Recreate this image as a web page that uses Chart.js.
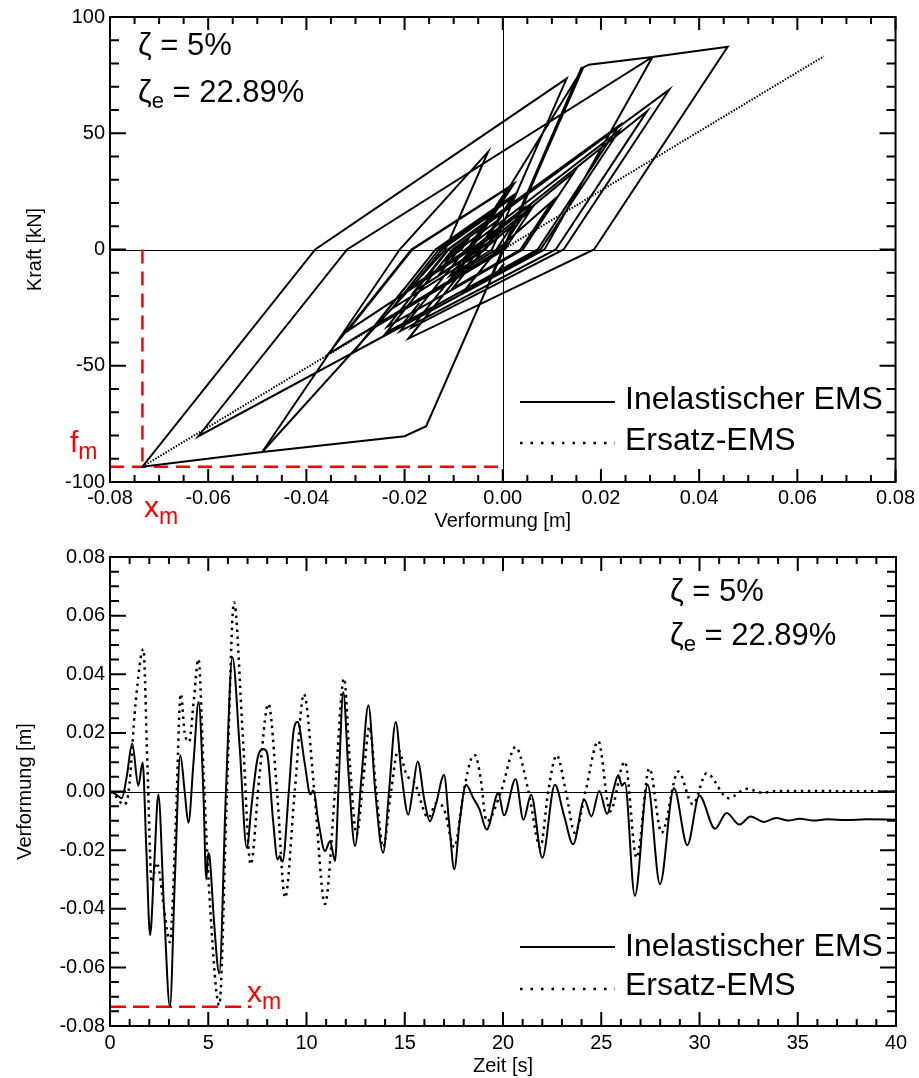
<!DOCTYPE html>
<html>
<head>
<meta charset="utf-8">
<script src="https://cdn.jsdelivr.net/npm/chart.js@4.4.0/dist/chart.umd.min.js"></script>
<style>
  html, body { margin: 0; padding: 0; background: #fff; }
  #wrap { position: relative; width: 919px; height: 1078px; overflow: hidden; }
  canvas { position: absolute; left: 0; }
  .t { position: absolute; font-family: 'Liberation Sans', Arial, sans-serif; line-height: 1; white-space: nowrap; color: #000; }
  .z { font-size: 31px; }
  .lg { font-size: 32px; }
  .red { color: #ff0000; font-size: 30px; }
  .sub { position: relative; top: 7px; font-size: 23px; }
  .zsub { position: relative; top: 6px; font-size: 22px; }
</style>
</head>
<body>
<div id="wrap">
  <canvas id="c1" width="919" height="540" style="top:0"></canvas>
  <canvas id="c2" width="919" height="538" style="top:540px"></canvas>

  <div class="t z" style="left:138px;top:29px">ζ = 5%</div>
  <div class="t z" style="left:138px;top:76px">ζ<span class="zsub">e</span> = 22.89%</div>
  <div class="t lg" style="left:625px;top:382px">Inelastischer EMS</div>
  <div class="t lg" style="left:625px;top:423px">Ersatz-EMS</div>
  <div class="t red" style="left:70px;top:427px">f<span class="sub">m</span></div>
  <div class="t red" style="left:144px;top:492px">x<span class="sub">m</span></div>

  <div class="t z" style="left:670px;top:575px">ζ = 5%</div>
  <div class="t z" style="left:670px;top:619px">ζ<span class="zsub">e</span> = 22.89%</div>
  <div class="t lg" style="left:625px;top:929px">Inelastischer EMS</div>
  <div class="t lg" style="left:625px;top:968px">Ersatz-EMS</div>
  <div class="t red" style="left:247px;top:977px">x<span class="sub">m</span></div>
</div>
<script>
// ---------------- data ----------------
// Hysteresis (inelastic EMS): displacement [m] and force [kN], in time order
const hystDisp = [
  0,-0.0023,0.016,0.0164,0.002,0.0099,0.0002,-0.0156,-0.020,-0.049,
  -0.021,-0.003,-0.0117,-0.049,-0.0734,-0.0382,0.013,-0.0022,-0.0107,-0.0065,
  0.0164,0.0175,0.0305,0.0085,-0.0305,-0.020,-0.0305,-0.062,-0.0317,0.0305,
  0.0458,0.0186,-0.0192,-0.0047,0.0145,0.0041,-0.0235,-0.011,0.0237,0.0071,
  -0.001,0.0003,-0.001,-0.0203,-0.017,-0.0203,-0.0237,-0.0102,0.0339,0.0124,
  -0.0186,-0.0059,0.0294,0.0108,-0.0209,-0.0076,0.0237,0.0077,-0.0079,-0.0011,
  0.0102,0.0036,-0.0102,-0.0039,0.0056,0.0004,-0.0265,-0.0137,0.0023,-0.0050,
  -0.013,-0.0089,-0.0006,-0.0047,-0.0081,-0.0064,0.0042,-0.0013,-0.0096,-0.0056,
  -0.0011,-0.0035,-0.0226,-0.0130,0.0023,-0.0048,-0.018,-0.0112,-0.0028,-0.0068,
  -0.0085,-0.0076,0.0002,-0.0038,-0.0077,-0.0057,0.0056,-0.0004,-0.0356,-0.0186,
  0.0023,-0.0065,-0.0316,-0.0184,0.0011,-0.0072,-0.0183,-0.0124,-0.0014,-0.0066,
  -0.0127,-0.0095,-0.0073,-0.0084,-0.0113,-0.0098,-0.0085,-0.0091,-0.0104,-0.0097,
  -0.0090,-0.0096
];
const hystForce = [
  0,-11.2,78,78.3,8.8,46.9,0,-76,-80.3,-87.1,
  0,42,0,-87.1,-93.4,0,73.5,0,-11.1,0,
  78.3,79.5,82.8,0,-44.4,-16.6,-44.4,-80.3,0,82.8,
  87.2,0,-38.3,0,33.2,0,-33.2,0,53.3,0,
  -9.4,-6.0,-9.4,-31.8,-23.1,-31.8,-35.7,0,68.7,0,
  -33.7,0,59.5,0,-35.1,0,51.1,0,-17.9,0,
  21.0,0,-16.7,0,16.7,0,-34.0,0,23.5,0,
  -10.9,0,13.2,0,-4.6,0,17.7,0,-10.7,0,
  7.6,0,-25.5,0,22.7,0,-18.0,0,12.9,0,
  -2.4,0,12.7,0,-5.2,0,19.1,0,-45.0,0,
  28.3,0,-35.0,0,26.5,0,-15.6,0,16.5,0,
  -8.6,0,3.5,0,-4.0,0,2.0,0,-1.8,0,
  1.1,0
];
// Equivalent linear system (Ersatz-EMS) line ends
const ersatzDisp = [-0.0734, 0.0654];
const ersatzForce = [-93.4, 83.1];
// Maxima markers
const xMax = -0.0734;   // x_m [m]
const fMax = -93.4;     // f_m [kN]
const xmMarkerEndTime = 7.2; // [s]

// Time histories
const timeInel = [
  0,0.3,0.6,0.85,1.13,1.44,1.66,1.85,2.04,2.25,
  2.46,2.75,3.05,3.3,3.58,3.8,3.99,4.25,4.51,4.75,
  4.9,5.0,5.08,5.3,5.56,5.9,6.23,6.6,6.96,7.2,
  7.5,7.8,8.0,8.3,8.53,8.65,8.78,9.1,9.35,9.55,
  9.9,10.2,10.35,10.6,10.94,11.2,11.45,11.65,11.87,12.15,
  12.47,12.8,13.15,13.5,13.9,14.2,14.54,14.85,15.18,15.4,
  15.66,16.0,16.28,16.6,17.0,17.25,17.52,17.8,18.12,18.49,
  18.8,19.17,19.76,20.05,20.64,21.04,21.43,22.0,22.64,23.1,
  23.57,24.14,24.5,24.9,25.3,25.6,25.87,26.05,26.2,26.71,
  27.36,27.99,28.7,29.38,29.99,30.79,31.38,32.03,32.6,33.28,
  33.9,34.52,35.1,35.8,36.5,37.5,38.5,40
];
const dispInel = [
  0,-0.001,-0.0023,0.005,0.0164,0.002,0.0099,-0.02,-0.049,-0.025,
  -0.001,-0.04,-0.0734,-0.03,0.0124,0.0,-0.0107,0.01,0.0305,0.0,
  -0.030,-0.021,-0.023,-0.045,-0.062,0.0,0.0458,0.015,-0.0192,-0.005,
  0.011,0.0145,0.013,-0.01,-0.0232,-0.022,-0.024,0.0,0.021,0.0237,
  0.01,-0.001,0.0003,-0.01,-0.0203,-0.017,-0.0237,0.005,0.0339,0.005,
  -0.0186,0.005,0.0294,0.0,-0.0209,0.0,0.0237,0.005,-0.0079,0.0,
  0.0102,-0.003,-0.0102,-0.004,0.0056,-0.01,-0.0265,-0.01,0.0023,-0.0023,
  -0.006,-0.013,-0.0006,-0.0081,0.0042,-0.0096,-0.0011,-0.0226,0.0023,-0.008,
  -0.018,-0.0028,-0.0085,0.0002,-0.0077,0.0,0.0056,0.002,0.003,-0.0356,
  0.0023,-0.0316,0.0011,-0.0183,-0.0014,-0.0127,-0.0073,-0.0113,-0.0085,-0.0104,
  -0.009,-0.0099,-0.0093,-0.0099,-0.0095,-0.0097,-0.0095,-0.0096
];
const timeErs = [
  0,0.35,0.68,0.95,1.3,1.7,1.9,2.12,2.37,2.5,
  2.75,3.05,3.35,3.6,3.8,4.03,4.25,4.5,4.8,5.1,
  5.56,5.95,6.31,6.75,7.16,7.6,8.06,8.5,8.91,9.4,
  9.87,10.4,10.94,11.45,11.91,12.2,12.55,12.9,13.2,13.55,
  13.9,14.3,14.67,15.1,15.5,16.2,16.6,17.0,17.52,18.0,
  18.4,18.58,18.85,19.17,19.9,20.64,21.3,21.9,22.3,22.73,
  23.2,23.66,24.2,24.85,25.45,26.2,26.8,27.45,28.07,28.92,
  29.66,30.36,31.47,32.4,33.2,34,40
];
const dispErs = [
  0,-0.002,-0.0045,0.0,0.03,0.0486,0.01,-0.031,-0.0243,-0.027,
  -0.04,-0.0514,-0.01,0.0333,0.02,0.017,0.03,0.0452,0.0,-0.04,
  -0.0729,0.0,0.0646,0.02,-0.0249,0.005,0.0299,0.0,-0.0362,0.0,
  0.0333,0.0,-0.0384,0.0,0.0386,0.01,-0.0147,0.005,0.022,0.0,
  -0.019,0.0,0.0141,0.0056,0.003,-0.009,-0.004,-0.006,-0.019,0.0,
  0.0115,0.0124,0.005,-0.0102,0.0,0.0152,0.0,-0.019,0.0,0.0124,
  0.0,-0.0141,0.0,0.0172,-0.0068,0.0102,-0.0226,0.0079,-0.0141,0.0068,
  -0.0044,0.0062,-0.0023,0.0009,-0.0004,0.0002,0.0
];

// Tick labels
const hystXTicks = [-0.08,-0.06,-0.04,-0.02,0,0.02,0.04,0.06,0.08];
const hystYTicks = [-100,-50,0,50,100];
const timeXTicks = [0,5,10,15,20,25,30,35,40];
const timeYTicks = [-0.08,-0.06,-0.04,-0.02,0,0.02,0.04,0.06,0.08];

// ---------------- helpers ----------------
const FONT = "'Liberation Sans', Arial, sans-serif";
Chart.defaults.font.family = FONT;
Chart.defaults.font.size = 20;
Chart.defaults.color = '#000';

const zip = (xs, ys) => xs.map((v, i) => ({x: v, y: ys[i]}));
const fmt2 = v => (Math.abs(v) < 1e-9 ? 0 : v).toFixed(2);

const frameTicks = {
  id: 'frameTicks',
  beforeDatasetsDraw(chart, args, o) {
    const {ctx, chartArea: a, scales: {x, y}} = chart;
    ctx.save();
    ctx.strokeStyle = '#000';
    ctx.lineWidth = 1;
    ctx.beginPath();
    if (o.zeroX) { const p = Math.round(x.getPixelForValue(0)) + 0.5; ctx.moveTo(p, a.top); ctx.lineTo(p, a.bottom); }
    if (o.zeroY) { const p = Math.round(y.getPixelForValue(0)) + 0.5; ctx.moveTo(a.left, p); ctx.lineTo(a.right, p); }
    ctx.stroke();
    ctx.restore();
  },
  afterDraw(chart, args, o) {
    const {ctx, chartArea: a, scales: {x, y}} = chart;
    ctx.save();
    ctx.strokeStyle = '#000';
    ctx.lineWidth = 2;
    ctx.setLineDash([]);
    ctx.strokeRect(a.left, a.top, a.right - a.left, a.bottom - a.top);
    ctx.beginPath();
    const nx = Math.round((o.xMax - o.xMin) / o.xMinor);
    for (let i = 0; i <= nx; i++) {
      const v = o.xMin + i * o.xMinor;
      const L = (i % o.xPer === 0) ? o.xMaj : o.xMin2;
      const p = x.getPixelForValue(v);
      ctx.moveTo(p, a.bottom); ctx.lineTo(p, a.bottom - L);
      ctx.moveTo(p, a.top); ctx.lineTo(p, a.top + L);
    }
    const ny = Math.round((o.yMax - o.yMin) / o.yMinor);
    for (let i = 0; i <= ny; i++) {
      const v = o.yMin + i * o.yMinor;
      const L = (i % o.yPer === 0) ? o.yMaj : o.yMin2;
      const p = y.getPixelForValue(v);
      ctx.moveTo(a.left, p); ctx.lineTo(a.left + L, p);
      ctx.moveTo(a.right, p); ctx.lineTo(a.right - L, p);
    }
    ctx.stroke();
    // legend samples
    const lg = o.legend;
    ctx.lineWidth = 2;
    ctx.beginPath(); ctx.moveTo(lg.x0, lg.ySolid); ctx.lineTo(lg.x1, lg.ySolid); ctx.stroke();
    ctx.lineWidth = 2.5;
    ctx.setLineDash([2.5, 8]);
    ctx.beginPath(); ctx.moveTo(lg.x0, lg.yDot); ctx.lineTo(lg.x1, lg.yDot); ctx.stroke();
    ctx.restore();
  }
};

// ---------------- top chart: hysteresis ----------------
new Chart(document.getElementById('c1'), {
  type: 'line',
  data: {
    datasets: [
      { label: 'Inelastischer EMS', data: zip(hystDisp, hystForce), borderColor: '#000', borderWidth: 2, pointRadius: 0, tension: 0 },
      { label: 'Ersatz-EMS', data: zip(ersatzDisp, ersatzForce), borderColor: '#000', borderWidth: 2, borderDash: [1.5, 1.5], pointRadius: 0, tension: 0 },
      { label: 'x_m', data: [{x: xMax, y: 0}, {x: xMax, y: fMax}], borderColor: '#ff0000', borderWidth: 2.5, borderDash: [14, 8], pointRadius: 0 },
      { label: 'f_m', data: [{x: hystXTicks[0], y: fMax}, {x: 0, y: fMax}], borderColor: '#ff0000', borderWidth: 2.5, borderDash: [14, 8], pointRadius: 0 }
    ]
  },
  options: {
    responsive: false, animation: false, devicePixelRatio: 1,
    layout: { padding: { left: 0, top: 10, right: 22, bottom: 0 } },
    plugins: {
      legend: { display: false }, tooltip: { enabled: false },
      frameTicks: { zeroX: true, zeroY: true,
        xMin: -0.08, xMax: 0.08, xMinor: 0.005, xPer: 4, xMaj: 13, xMin2: 7,
        yMin: -100, yMax: 100, yMinor: 10, yPer: 5, yMaj: 16, yMin2: 9,
        legend: { x0: 520, x1: 615, ySolid: 402, yDot: 443 } }
    },
    scales: {
      x: { type: 'linear', min: -0.08, max: 0.08,
        afterBuildTicks: s => { s.ticks = hystXTicks.map(v => ({value: v})); },
        afterFit: s => { s.height = 58; },
        grid: { display: false, drawTicks: false }, border: { display: false },
        ticks: { padding: 4, autoSkip: false, maxRotation: 0, callback: v => fmt2(v) },
        title: { display: true, text: 'Verformung [m]', font: { size: 20 }, padding: { top: 0, bottom: 7 } } },
      y: { type: 'linear', min: -100, max: 100,
        afterBuildTicks: s => { s.ticks = hystYTicks.map(v => ({value: v})); },
        afterFit: s => { s.width = 110; },
        grid: { display: false, drawTicks: false }, border: { display: false },
        ticks: { padding: 5, autoSkip: false, callback: v => String(v) },
        title: { display: true, text: 'Kraft [kN]', font: { size: 20 }, padding: { top: 23, bottom: 0 } } }
    }
  },
  plugins: [frameTicks]
});

// ---------------- bottom chart: time history ----------------
new Chart(document.getElementById('c2'), {
  type: 'line',
  data: {
    datasets: [
      { label: 'Inelastischer EMS', data: zip(timeInel, dispInel), borderColor: '#000', borderWidth: 2, pointRadius: 0, cubicInterpolationMode: 'monotone' },
      { label: 'Ersatz-EMS', data: zip(timeErs, dispErs), borderColor: '#000', borderWidth: 2.5, borderDash: [2.5, 4.5], pointRadius: 0, cubicInterpolationMode: 'monotone' },
      { label: 'x_m', data: [{x: 0, y: xMax}, {x: xmMarkerEndTime, y: xMax}], borderColor: '#ff0000', borderWidth: 2.5, borderDash: [16, 7], pointRadius: 0 }
    ]
  },
  options: {
    responsive: false, animation: false, devicePixelRatio: 1,
    layout: { padding: { left: 0, top: 14, right: 23, bottom: 0 } },
    plugins: {
      legend: { display: false }, tooltip: { enabled: false },
      frameTicks: { zeroX: false, zeroY: true,
        xMin: 0, xMax: 40, xMinor: 1, xPer: 5, xMaj: 14, xMin2: 7,
        yMin: -0.08, yMax: 0.08, yMinor: 0.005, yPer: 4, yMaj: 16, yMin2: 9,
        legend: { x0: 520, x1: 615, ySolid: 407, yDot: 449 } }
    },
    scales: {
      x: { type: 'linear', min: 0, max: 40,
        afterBuildTicks: s => { s.ticks = timeXTicks.map(v => ({value: v})); },
        afterFit: s => { s.height = 52; },
        grid: { display: false, drawTicks: false }, border: { display: false },
        ticks: { padding: 5, autoSkip: false, maxRotation: 0, callback: v => String(v) },
        title: { display: true, text: 'Zeit [s]', font: { size: 20 }, padding: { top: 0, bottom: 0 } } },
      y: { type: 'linear', min: -0.08, max: 0.08,
        afterBuildTicks: s => { s.ticks = timeYTicks.map(v => ({value: v})); },
        afterFit: s => { s.width = 110; },
        grid: { display: false, drawTicks: false }, border: { display: false },
        ticks: { padding: 5, autoSkip: false, callback: v => fmt2(v) },
        title: { display: true, text: 'Verformung [m]', font: { size: 20 }, padding: { top: 13, bottom: 0 } } }
    }
  },
  plugins: [frameTicks]
});
</script>
</body>
</html>
